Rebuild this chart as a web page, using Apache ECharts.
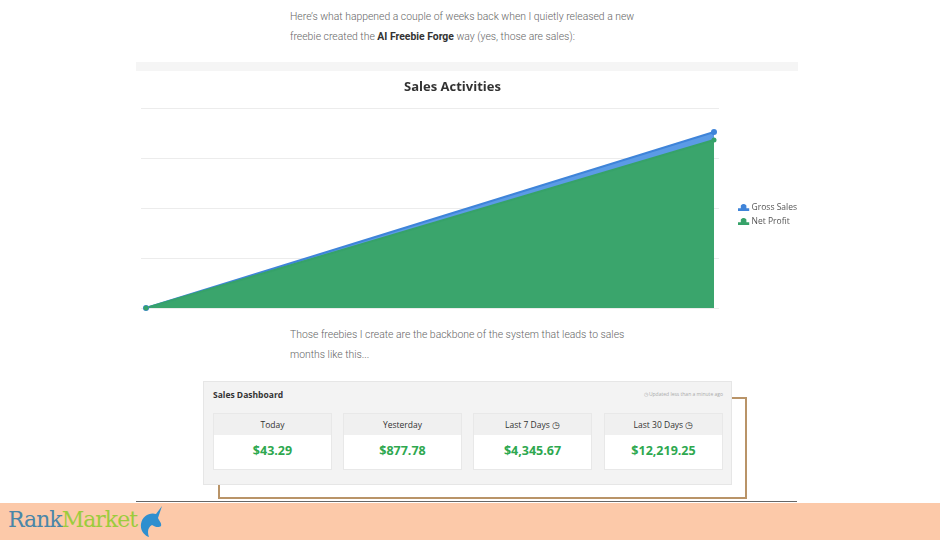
<!DOCTYPE html>
<html>
<head>
<meta charset="utf-8">
<script src="https://cdn.jsdelivr.net/npm/echarts@6/dist/echarts.min.js"></script>
<style>
  html, body { margin: 0; padding: 0; background: #fff; }
  body { width: 940px; height: 540px; position: relative; overflow: hidden; font-family: Roboto, "Open Sans", sans-serif; }
  .para { position: absolute; left: 290px; font-size: 10.4px; line-height: 20px; color: #666; font-weight: 300; white-space: nowrap; }
  .para b { color: #333; font-weight: 700; }
  .band { position: absolute; left: 136px; top: 62px; width: 662px; height: 9px; background: #f5f5f5; }
  #chart { position: absolute; left: 136px; top: 62px; width: 700px; height: 255px; }
  .dash { position: absolute; left: 203px; top: 381px; width: 527px; height: 102px; background: #f3f3f3; border: 1px solid #e6e6e6; font-family: "Open Sans", sans-serif; }
  .dash .ttl { position: absolute; left: 9px; top: 7px; font-size: 8.5px; font-weight: 700; color: #333; }
  .dash .upd { position: absolute; right: 8px; top: 9px; font-size: 5px; color: #aaa; }
  .card { position: absolute; top: 31px; width: 117px; height: 55px; background: #fff; border: 1px solid #e8e8e8; }
  .card .hd { height: 21px; background: #f0f0f0; font-size: 8.5px; color: #333; text-align: center; line-height: 21px; }
  .card .val { font-size: 12.5px; font-weight: 700; color: #2ea84f; text-align: center; line-height: 32px; }
  .bracket { position: absolute; left: 218px; top: 397px; width: 527px; height: 100px; border-right: 2px solid #b99468; border-bottom: 2px solid #b99468; }
  .bracket:before { content: ''; position: absolute; left: 505px; top: 0; width: 22px; border-top: 2px solid #b99468; }
  .bracket:after { content: ''; position: absolute; left: 0; top: 83px; height: 17px; border-left: 2px solid #b99468; }
  .rule { position: absolute; left: 136px; top: 501px; width: 661px; height: 1px; background: #666; }
  .banner { position: absolute; left: 0; top: 503px; width: 940px; height: 37px; background: #fcc9a9; }
  .logo { position: absolute; left: 8px; top: 4px; font-family: "DejaVu Serif", serif; font-size: 22px; letter-spacing: -1px; }
  .logo .r { color: #4a86a8; }
  .logo .m { color: #9bcc3c; }
  .logo svg { position: absolute; left: 128px; top: -3px; }
</style>
</head>
<body>
<div class="para" style="top:7px">Here’s what happened a couple of weeks back when I quietly released a new<br>freebie created the <b>AI Freebie Forge</b> way (yes, those are sales):</div>
<div class="band"></div>
<div id="chart"></div>
<div class="para" style="top:325px">Those freebies I create are the backbone of the system that leads to sales<br>months like this...</div>
<div class="bracket"></div>
<div class="dash">
  <div class="ttl">Sales Dashboard</div>
  <div class="upd">◷ Updated less than a minute ago</div>
  <div class="card" style="left:9px"><div class="hd">Today</div><div class="val">$43.29</div></div>
  <div class="card" style="left:139px"><div class="hd">Yesterday</div><div class="val">$877.78</div></div>
  <div class="card" style="left:269px"><div class="hd">Last 7 Days ◷</div><div class="val">$4,345.67</div></div>
  <div class="card" style="left:400px"><div class="hd">Last 30 Days ◷</div><div class="val">$12,219.25</div></div>
</div>
<div class="rule"></div>
<div class="banner">
  <div class="logo"><span class="r">Rank</span><span class="m">Market</span>
    <svg width="32" height="34" viewBox="0 0 32 34"><path d="M26 2 L20 10 C14 8 6 12 5 20 C4 27 9 32 13 33 C11 28 12 23 16 21 C19 23 23 24 25 22 C26 19 23 17 22 14 Z" fill="#2f8fcf"/></svg>
  </div>
</div>
<script>
  const categories = ['Start', 'End']
  const grossSales = [0, 3520]
  const netProfit = [0, 3360]
  const seriesNames = ['Gross Sales', 'Net Profit']

  const chart = echarts.init(document.getElementById('chart'))
  const toPoints = arr => arr.map((v, i) => [i, v])
  chart.setOption({
    animation: false,
    color: ['#4a8fe0', '#37a36a'],
    title: {
      text: 'Sales Activities',
      left: 263,
      top: 14,
      textStyle: { fontFamily: 'Open Sans', fontSize: 13, fontWeight: 'bold', color: '#333' }
    },
    legend: {
      orient: 'vertical',
      left: 597,
      top: 136,
      itemWidth: 12,
      itemHeight: 7,
      itemGap: 5,
      icon: 'path://M0,5 L3,5 L3,2 Q6,-1 9,2 L9,5 L12,5 L12,8 L0,8 Z',
      textStyle: { fontFamily: 'Open Sans', fontSize: 8.5, color: '#555', padding: [0, 0, 0, -3] },
      data: seriesNames
    },
    grid: { left: 5, right: 117, top: 46, bottom: 9 },
    xAxis: {
      type: 'value',
      min: -0.0088,
      max: categories.length - 1 + 0.0088,
      show: false
    },
    yAxis: {
      type: 'value',
      min: 0,
      max: 4000,
      interval: 1000,
      axisLine: { show: false },
      axisTick: { show: false },
      axisLabel: { show: false },
      splitLine: { lineStyle: { color: '#ececec' } }
    },
    series: [
      {
        name: seriesNames[0],
        type: 'line',
        data: toPoints(grossSales),
        symbol: 'circle',
        symbolSize: 6,
        lineStyle: { width: 2, color: '#3f84d9' },
        itemStyle: { color: '#3f84d9' },
        areaStyle: { color: '#5b9be6', opacity: 1 }
      },
      {
        name: seriesNames[1],
        type: 'line',
        data: toPoints(netProfit),
        symbol: 'circle',
        symbolSize: 5,
        lineStyle: { width: 2, color: '#36a269' },
        itemStyle: { color: '#36a269' },
        areaStyle: { color: '#3aa56c', opacity: 1 }
      }
    ]
  })
</script>
</body>
</html>
